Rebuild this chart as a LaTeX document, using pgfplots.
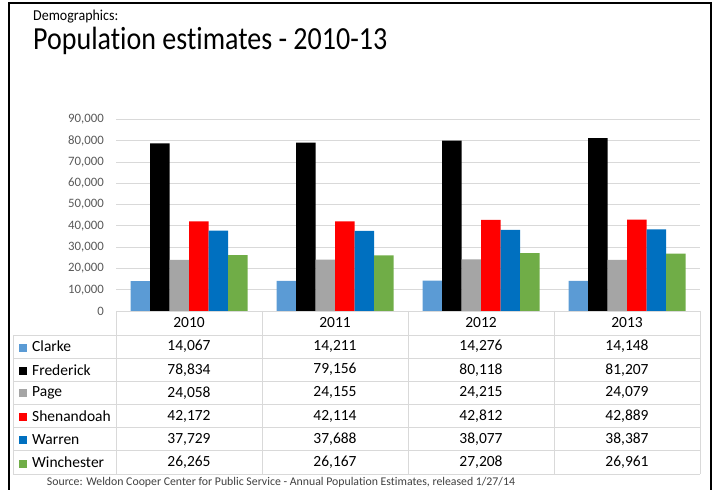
\documentclass[border=0pt]{standalone}
\usepackage{pgfplots}
\pgfplotsset{compat=1.18}
\usepackage{pgfplotstable}
\usepackage{fontspec}
\setmainfont[Ligatures=NoCommon]{Carlito}

\definecolor{clarke}{HTML}{5B9BD5}
\definecolor{page}{HTML}{A5A5A5}
\definecolor{shen}{HTML}{FF0000}
\definecolor{warren}{HTML}{0070C0}
\definecolor{winch}{HTML}{70AD47}
\definecolor{gridc}{HTML}{D9D9D9}
\definecolor{tickc}{HTML}{595959}
\definecolor{srcc}{HTML}{404040}

\newcommand{\sq}[1]{{\color{#1}\rule{8pt}{8pt}}\hspace{5pt}}

\pgfplotstableread{
x year Clarke Frederick Page Shenandoah Warren Winchester
0 2010 14067 78834 24058 42172 37729 26265
1 2011 14211 79156 24155 42114 37688 26167
2 2012 14276 80118 24215 42812 38077 27208
3 2013 14148 81207 24079 42889 38387 26961
}\pop

\begin{document}
\begin{tikzpicture}
\useasboundingbox (0pt,0pt) rectangle (713pt,490pt);

% titles
\node[anchor=base west, inner sep=0, yscale=1.08, font=\fontsize{14}{16}\selectfont] at (33pt,469.5pt) {Demographics:};
\node[anchor=base west, inner sep=0, yscale=1.15, font=\fontsize{28}{32}\selectfont] at (33pt,440pt) {Population estimates - 2010-13};

% bars
\begin{axis}[
    at={(116pt,179pt)}, anchor=south west,
    width=584pt, height=191.5pt, scale only axis,
    xmin=-0.5, xmax=3.5, ymin=0, ymax=90000,
    ybar=0pt, bar width=19.5pt,
    axis line style={draw=none},
    ymajorgrids, grid style={color=gridc, line width=0.8pt},
    ytick={0,10000,...,90000},
    xtick={0,1,2,3}, xticklabels={2010,2011,2012,2013},
    major tick length=0,
    scaled y ticks=false,
    /pgf/number format/.cd, fixed, 1000 sep={,}, assume math mode=true,
    /pgfplots/.cd,
    yticklabel style={anchor=east, xshift=-12pt, inner sep=0, color=tickc, font=\fontsize{12.8}{14}\selectfont},
    xticklabel style={anchor=center, yshift=-11.7pt, inner sep=0, font=\fontsize{15.5}{18}\selectfont},
]
\addplot[fill=clarke, draw=none] table[x=x, y=Clarke] {\pop};
\addplot[fill=black, draw=none] table[x=x, y=Frederick] {\pop};
\addplot[fill=page, draw=none] table[x=x, y=Page] {\pop};
\addplot[fill=shen, draw=none] table[x=x, y=Shenandoah] {\pop};
\addplot[fill=warren, draw=none] table[x=x, y=Warren] {\pop};
\addplot[fill=winch, draw=none] table[x=x, y=Winchester] {\pop};
\end{axis}

% data table
\begin{axis}[
    at={(116pt,16pt)}, anchor=south west,
    width=584pt, height=139pt, scale only axis,
    xmin=-0.5, xmax=3.5, ymin=0, ymax=6, y dir=reverse,
    axis line style={draw=none},
    xtick=\empty,
    ytick={0.5,1.5,2.5,3.5,4.5,5.5},
    yticklabels={\sq{clarke}Clarke,\sq{black}Frederick,\sq{page}Page,\sq{shen}Shenandoah,\sq{warren}Warren,\sq{winch}Winchester},
    major tick length=0,
    yticklabel style={anchor=west, xshift=-97pt, inner sep=0, font=\fontsize{15.5}{18}\selectfont},
    point meta=explicit,
    nodes near coords={\pgfmathprintnumber[fixed,precision=0,1000 sep={,},assume math mode=true]{\pgfplotspointmeta}},
    nodes near coords style={anchor=center, inner sep=0, font=\fontsize{15.5}{18}\selectfont},
]
\addplot[draw=none, mark=none] table[x=x, y expr=0.5, meta=Clarke] {\pop};
\addplot[draw=none, mark=none] table[x=x, y expr=1.5, meta=Frederick] {\pop};
\addplot[draw=none, mark=none] table[x=x, y expr=2.5, meta=Page] {\pop};
\addplot[draw=none, mark=none] table[x=x, y expr=3.5, meta=Shenandoah] {\pop};
\addplot[draw=none, mark=none] table[x=x, y expr=4.5, meta=Warren] {\pop};
\addplot[draw=none, mark=none] table[x=x, y expr=5.5, meta=Winchester] {\pop};
\end{axis}

% table grid
\foreach \y in {155,131.8,108.7,85.5,62.3,39.2,16}
  \draw[gridc, line width=0.8pt] (13pt,\y pt) -- (700pt,\y pt);
\draw[gridc, line width=0.8pt] (13pt,155pt) -- (13pt,16pt);
\foreach \x in {116,262,408,554,700}
  \draw[gridc, line width=0.8pt] (\x pt,179pt) -- (\x pt,16pt);

% source
\node[inner sep=0, color=srcc, font=\fontsize{11.8}{13}\selectfont] at (281pt,7.5pt)
  {Source: Weldon Cooper Center for Public Service - Annual Population Estimates, released 1/27/14};

% frame
\draw[line width=2pt] (9pt,0pt) -- (9pt,486.7pt) -- (711pt,486.7pt) -- (711pt,0pt);
\end{tikzpicture}
\end{document}
